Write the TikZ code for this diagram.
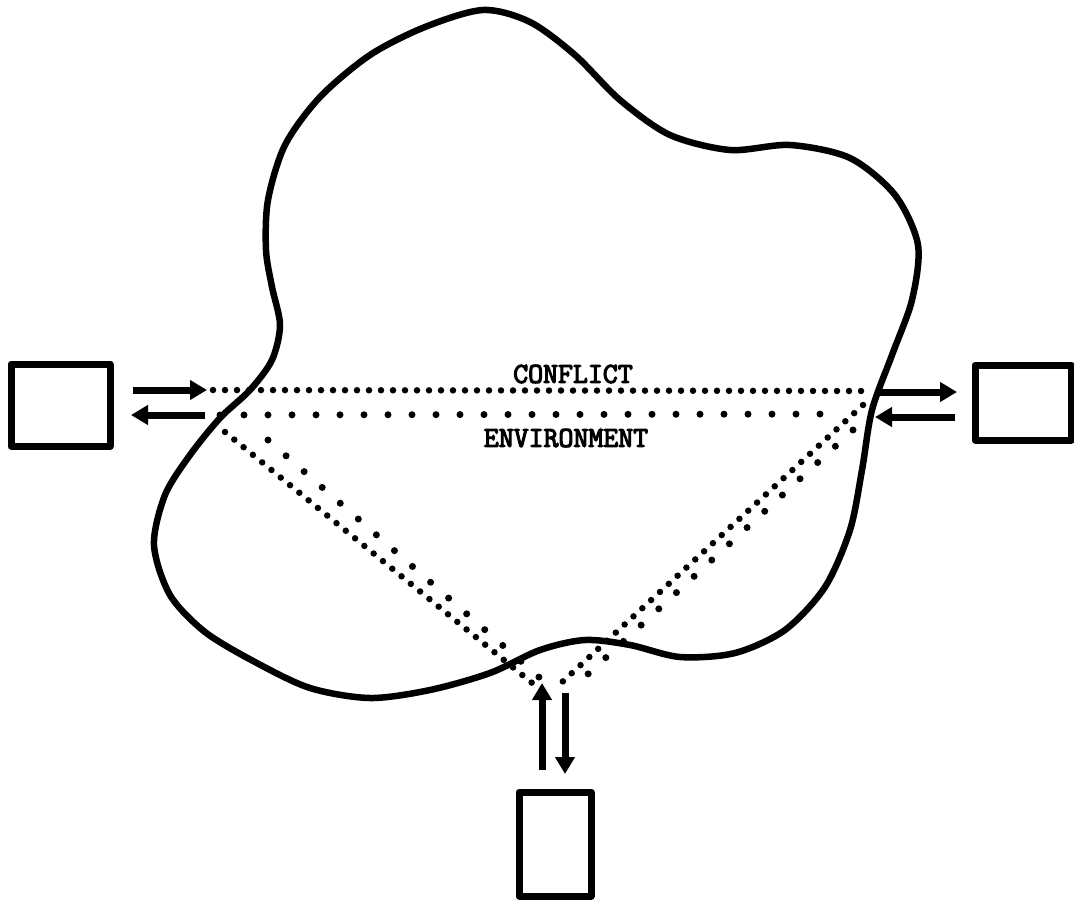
\documentclass[tikz,border=0pt]{standalone}
\usepackage{fontspec}
\newfontfamily\typewriter[FakeBold=4]{Latin Modern Mono}
\usetikzlibrary{arrows.meta}
\tikzset{
  outline/.style={line width=6.5pt, line join=round},
  unitbox/.style={draw, line width=7pt, inner sep=0pt, line join=round},
  flow/.style={line width=7pt, -{Triangle[length=17pt,width=19pt]}},
  densedots/.style={line width=6.5pt, line cap=round, dash pattern=on 0pt off 12pt},
  sparsedots/.style={line width=7pt, line cap=round, dash pattern=on 0pt off 24pt},
  label/.style={inner sep=0pt, font=\typewriter\fontsize{29}{29}\selectfont}
}
\begin{document}
\begin{tikzpicture}[x=1pt,y=-1pt]
\useasboundingbox (0,0) rectangle (1074,900);

% the environment
\draw[outline] plot[smooth cycle, tension=0.5] coordinates {
  (250,390) (272,360) (280,325) (272,287) (266,250) (268,200) (285,145)
  (320,97) (370,55) (425,27) (483,10) (530,22) (575,55) (620,100)
  (670,135) (730,150) (790,145) (850,158) (895,195) (918,245) (912,300)
  (892,355) (872,410) (862,470) (850,530) (825,587) (785,630) (735,653)
  (680,657) (630,645) (585,640) (540,650) (490,673) (430,690) (370,698)
  (310,688) (255,662) (205,632) (170,595) (154,545) (165,495) (190,455)
  (220,418)
};

% the three parties
\node[unitbox, minimum width=99pt, minimum height=82pt] (leftbox) at (60.5,405) {};
\node[unitbox, minimum width=96pt, minimum height=75pt] (rightbox) at (1023,402.5) {};
\node[unitbox, minimum width=72pt, minimum height=104pt] (bottombox) at (555,844) {};

% ends of the exchange arrows
\coordinate (lo1) at (133,390);  \coordinate (lo2) at (207,390);
\coordinate (li1) at (205,415);  \coordinate (li2) at (131,415);
\coordinate (ro1) at (878,392);  \coordinate (ro2) at (957,392);
\coordinate (ri1) at (955,417);  \coordinate (ri2) at (875,417);
\coordinate (bu1) at (542,770);  \coordinate (bu2) at (542,683);
\coordinate (bd1) at (565,693);  \coordinate (bd2) at (565,774);

\draw[flow] (lo1) -- (lo2);
\draw[flow] (li1) -- (li2);
\draw[flow] (ro1) -- (ro2);
\draw[flow] (ri1) -- (ri2);
\draw[flow] (bu1) -- (bu2);
\draw[flow] (bd1) -- (bd2);

% dotted channels across the environment
\coordinate (ht1) at (213,390); \coordinate (ht2) at (866,391);
\coordinate (hb1) at (220,415); \coordinate (hb2) at (842,414);
\coordinate (ld1) at (225,432); \coordinate (ld2) at (537,687);
\coordinate (ls1) at (268,440); \coordinate (ls2) at (548,685);
\coordinate (rd1) at (863,405); \coordinate (rd2) at (560,684);
\coordinate (rs1) at (853,430); \coordinate (rs2) at (575,686);

\draw[densedots] (ht1) -- (ht2);
\draw[sparsedots] (hb1) -- (hb2);
\draw[densedots] (ld1) -- (ld2);
\draw[sparsedots] (ls1) -- (ls2);
\draw[densedots] (rd1) -- (rd2);
\draw[sparsedots] (rs1) -- (rs2);

\node[label] (conflict) at (573,374) {CONFLICT};
\node[label] (environment) at (566,438) {ENVIRONMENT};
\end{tikzpicture}
\end{document}
